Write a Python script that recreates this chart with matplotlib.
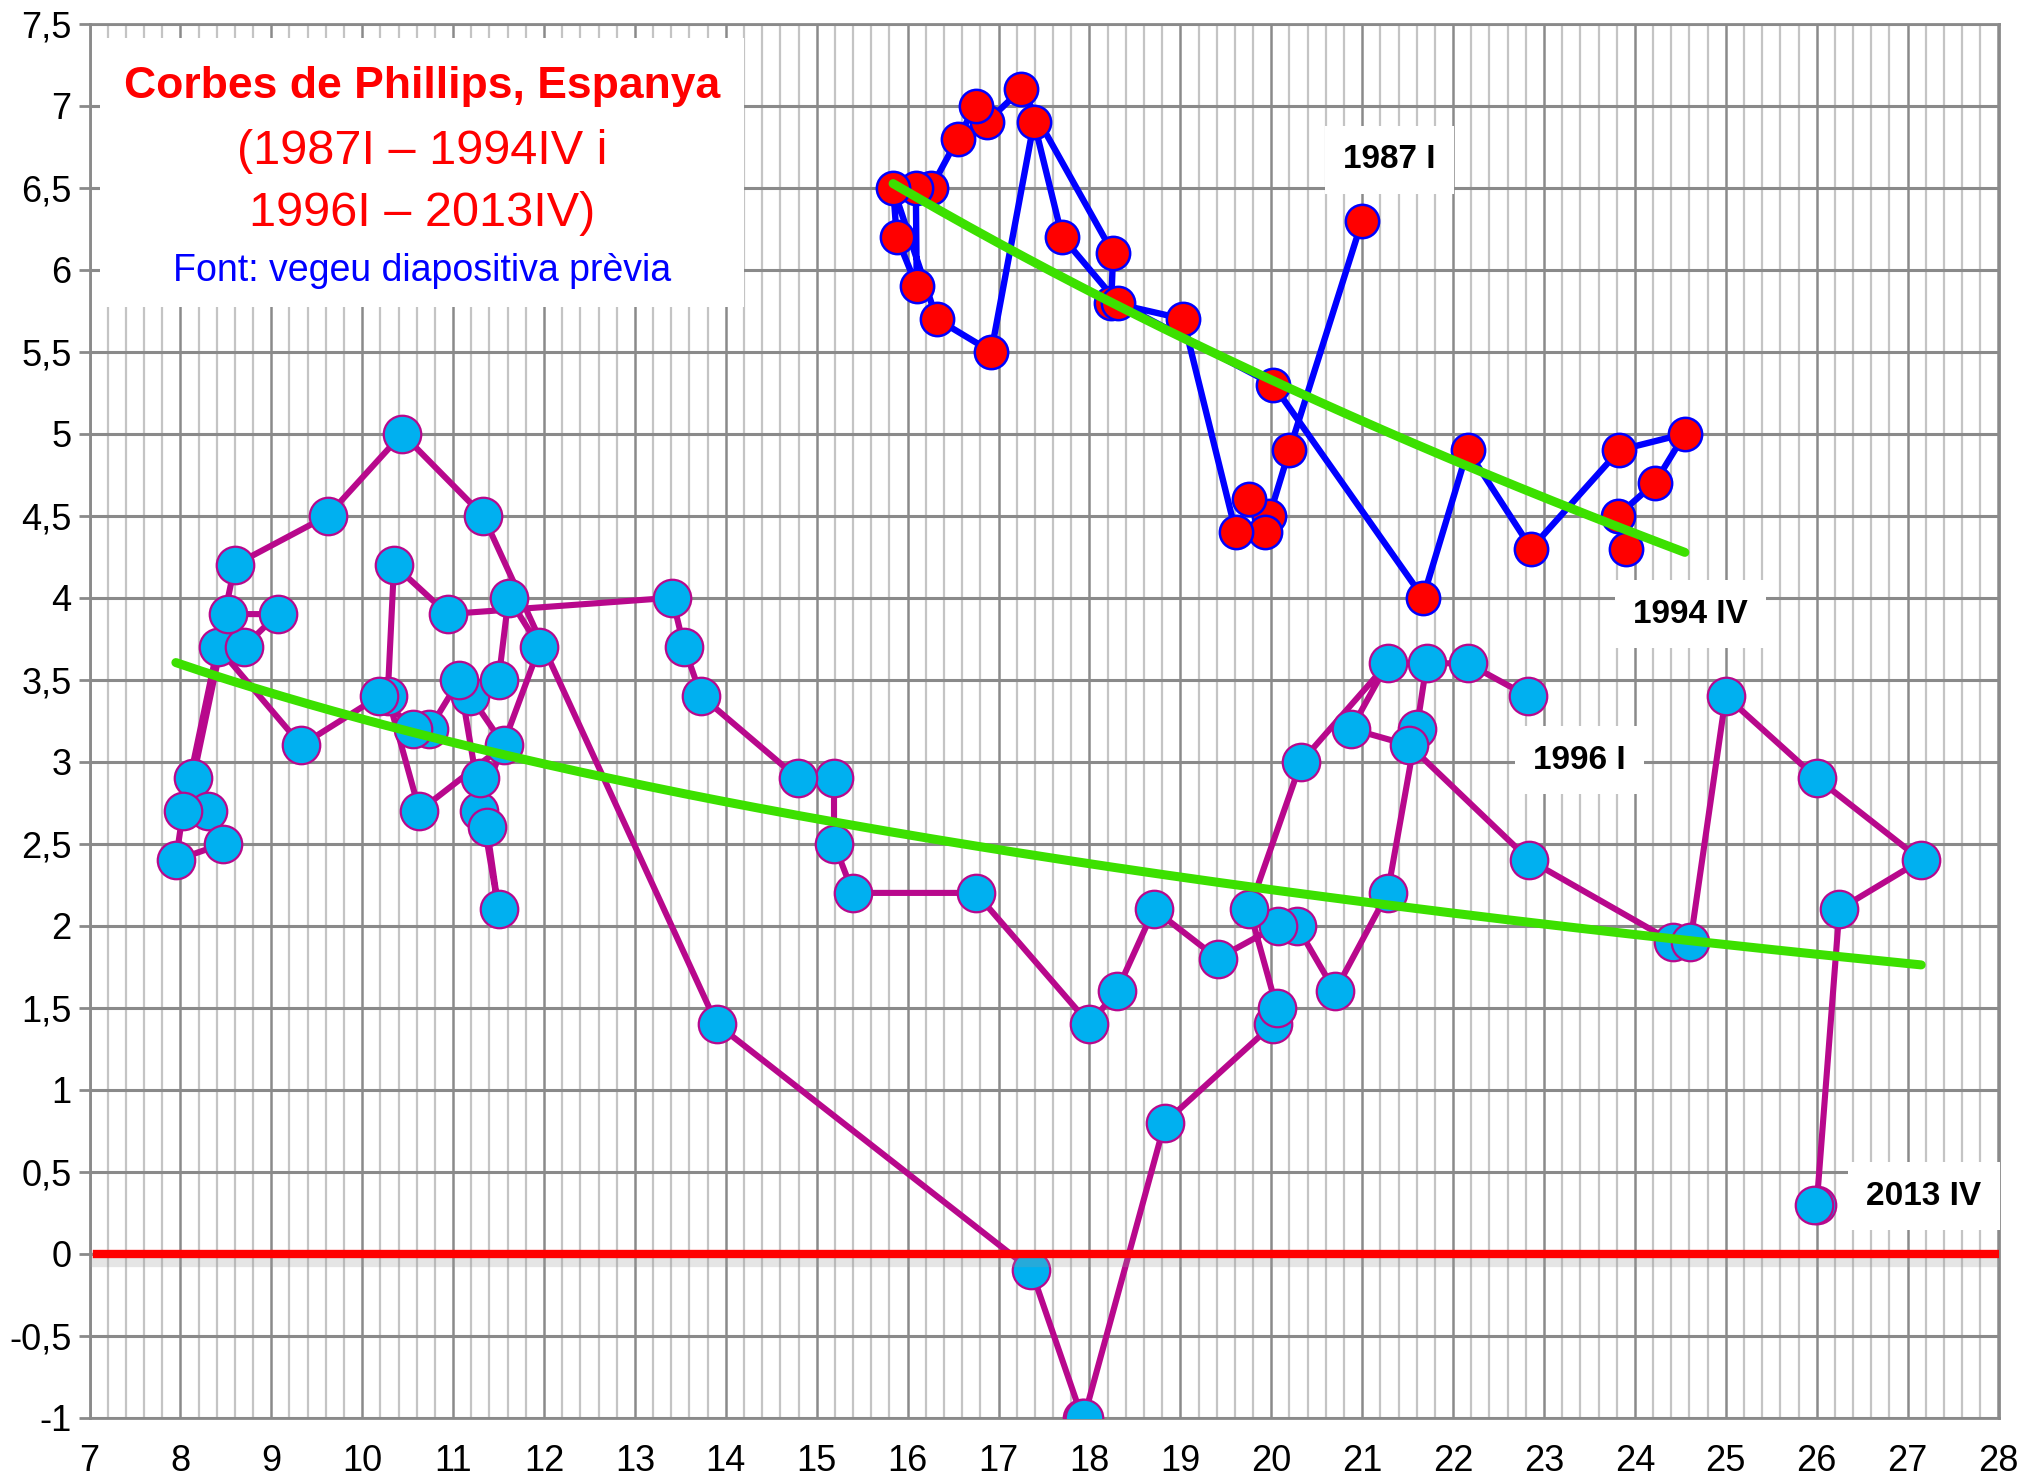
import numpy as np
import matplotlib.pyplot as plt
from matplotlib.patches import Rectangle

# 1987 I - 1994 IV : atur (x) i inflació (y)
atur_87 = [21.0, 20.2, 19.98, 19.75, 19.93, 19.61, 19.03, 18.24,
           18.26, 17.25, 16.87, 16.75, 16.55, 16.26, 16.09, 16.10,
           15.88, 15.84, 16.32, 16.92, 17.39, 17.70, 18.31, 20.02,
           21.67, 22.16, 22.86, 23.83, 24.55, 24.22, 23.81, 23.90]
infl_87 = [6.3, 4.9, 4.5, 4.6, 4.4, 4.4, 5.7, 5.8,
           6.1, 7.1, 6.9, 7.0, 6.8, 6.5, 6.5, 5.9,
           6.2, 6.5, 5.7, 5.5, 6.9, 6.2, 5.8, 5.3,
           4.0, 4.9, 4.3, 4.9, 5.0, 4.7, 4.5, 4.3]

# 1996 I - 2013 IV
atur_96 = [22.82, 22.16, 21.71, 21.60,
           21.28, 20.70, 20.28, 20.07,
           19.41, 18.71, 18.30, 18.00,
           16.75, 15.40, 15.19, 15.19,
           14.79, 13.73, 13.54, 13.41,
           10.94, 10.35, 10.28, 10.63,
           11.56, 11.19, 11.50, 11.61,
           11.95, 11.28, 11.30, 11.37,
           11.50, 11.07, 10.74, 10.56,
           10.19, 9.33, 8.41, 8.70,
           9.07, 8.52, 8.14, 8.30,
           8.47, 7.95, 8.03, 8.60,
           9.62, 10.44, 11.33, 13.90,
           17.36, 17.92, 17.94, 18.83,
           20.02, 20.06, 19.76, 20.33,
           21.28, 20.88, 21.52, 22.84,
           24.42, 24.61, 25.00, 26.00,
           27.15, 26.25, 26.00, 25.97]
infl_96 = [3.4, 3.6, 3.6, 3.2,
           2.2, 1.6, 2.0, 2.0,
           1.8, 2.1, 1.6, 1.4,
           2.2, 2.2, 2.5, 2.9,
           2.9, 3.4, 3.7, 4.0,
           3.9, 4.2, 3.4, 2.7,
           3.1, 3.4, 3.5, 4.0,
           3.7, 2.7, 2.9, 2.6,
           2.1, 3.5, 3.2, 3.2,
           3.4, 3.1, 3.7, 3.7,
           3.9, 3.9, 2.9, 2.7,
           2.5, 2.4, 2.7, 4.2,
           4.5, 5.0, 4.5, 1.4,
           -0.1, -1.0, -1.0, 0.8,
           1.4, 1.5, 2.1, 3.0,
           3.6, 3.2, 3.1, 2.4,
           1.9, 1.9, 3.4, 2.9,
           2.4, 2.1, 0.3, 0.3]

x_ticks = list(range(7, 29))
y_ticks = [-1, -0.5, 0, 0.5, 1, 1.5, 2, 2.5, 3, 3.5, 4, 4.5, 5, 5.5, 6, 6.5, 7, 7.5]

titol = ["Corbes de Phillips, Espanya", "(1987I \u2013 1994IV i", "1996I \u2013 2013IV)"]
font_txt = "Font: vegeu diapositiva prèvia"

fig = plt.figure(figsize=(20.22, 14.79), dpi=100)
ax = fig.add_axes([89.5 / 2022, 61.3 / 1479, 1909 / 2022, 1394 / 1479])
ax.set_xlim(7, 28)
ax.set_ylim(-1, 7.5)

# grid
ax.set_xticks(x_ticks)
ax.set_xticks(np.arange(7, 28.01, 0.2), minor=True)
ax.set_yticks(y_ticks)
ax.grid(which='minor', axis='x', color='#c4c4c4', lw=1.6, zorder=0)
ax.grid(which='major', axis='x', color='#8a8a8a', lw=1.8, zorder=0)
ax.grid(which='major', axis='y', color='#8a8a8a', lw=2.2, zorder=0)
ax.set_axisbelow(True)
for s in ax.spines.values():
    s.set_color('#8a8a8a')
    s.set_linewidth(2)

ax.set_xticklabels([str(v) for v in x_ticks])
ax.set_yticklabels([('%g' % v).replace('.', ',') for v in y_ticks])
ax.tick_params(axis='x', which='both', length=0, pad=19, labelsize=26)
ax.tick_params(axis='y', which='major', length=8, width=2, color='#8a8a8a', pad=5, labelsize=26)
for lab in ax.get_xticklabels() + ax.get_yticklabels():
    lab.set_family('Liberation Sans')

# caixa del títol
ax.add_patch(Rectangle((7.12, 5.77), 7.08, 1.64, fc='white', ec='none', zorder=1))
ax.text(10.66, 7.12, titol[0], color='red', fontsize=32, fontweight='bold',
        ha='center', va='center', family='Liberation Sans', zorder=2)
ax.text(10.66, 6.72, titol[1], color='red', fontsize=35,
        ha='center', va='center', family='Liberation Sans', zorder=2)
ax.text(10.66, 6.34, titol[2], color='red', fontsize=35,
        ha='center', va='center', family='Liberation Sans', zorder=2)
ax.text(10.66, 5.99, font_txt, color='#0000ff', fontsize=27,
        ha='center', va='center', family='Liberation Sans', zorder=2)

# sèries
ax.plot(atur_96, infl_96, color='#b8088c', lw=4.4, marker='o', ms=27,
        mfc='#00b0f0', mec='#b8088c', mew=1.6, zorder=3)
ax.plot(atur_87, infl_87, color='#0000ff', lw=4.6, marker='o', ms=24,
        mfc='#ff0000', mec='#0000ff', mew=1.8, zorder=4)

# línia del zero
ax.axhline(-0.035, xmin=0.004, color='#999999', lw=11, alpha=0.25, zorder=4.5)
ax.axhline(0, xmin=0.004, color='#ff0000', lw=6, zorder=5)

# tendències logarítmiques
for xs, ys in [(atur_87, infl_87), (atur_96, infl_96)]:
    xs = np.array(xs)
    c = np.polyfit(np.log(xs), ys, 1)
    xx = np.linspace(xs.min(), xs.max(), 200)
    ax.plot(xx, np.polyval(c, np.log(xx)), color='#3ce000', lw=6.5,
            solid_capstyle='round', zorder=6)

# etiquetes
box = dict(boxstyle='square,pad=0.55', fc='white', ec='none')
for txt, xp, yp in [("1987 I", 21.3, 6.67), ("1994 IV", 24.61, 3.9),
                    ("1996 I", 23.39, 3.01), ("2013 IV", 27.18, 0.35)]:
    ax.text(xp, yp, txt, fontsize=24, fontweight='bold', ha='center', va='center',
            family='Liberation Sans', bbox=box, zorder=7)

fig.savefig('out.png', dpi=100)
